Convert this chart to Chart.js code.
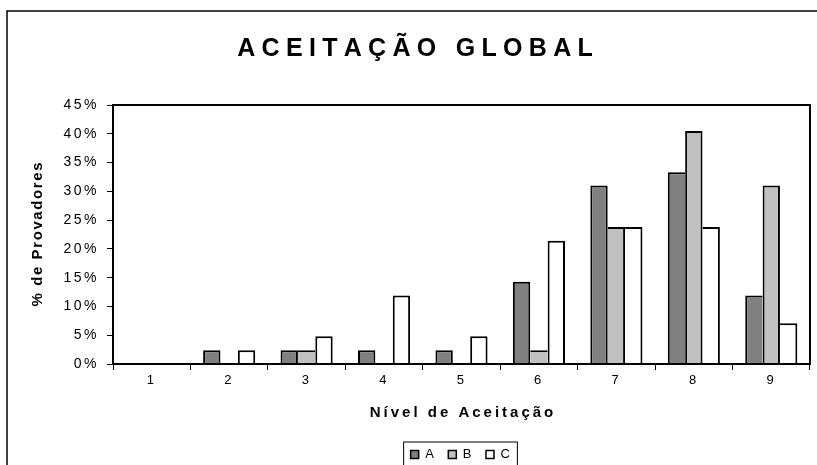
<!DOCTYPE html>
<html>
<head>
<meta charset="utf-8">
<script src="https://cdn.jsdelivr.net/npm/chart.js@4.4.1/dist/chart.umd.min.js"></script>
<style>
  html, body { margin: 0; padding: 0; background: #fff; overflow: hidden; }
  #wrap { width: 817px; height: 465px; overflow: hidden; }
  canvas { display: block; }
</style>
</head>
<body>
<div id="wrap"><canvas id="chart" width="817" height="490"></canvas></div>
<script>
// Acceptance level (hedonic scale 1-9) and share of tasters per sample, in %
const levels = ['1', '2', '3', '4', '5', '6', '7', '8', '9'];
const seriesNames = ['A', 'B', 'C'];
const seriesA = [0, 2.4, 2.4, 2.4, 2.4, 14.3, 31.0, 33.3, 11.9];
const seriesB = [0, 0, 2.4, 0, 0, 2.4, 23.8, 40.5, 31.0];
const seriesC = [0, 2.4, 4.8, 11.9, 4.8, 21.4, 23.8, 23.8, 7.1];
const yTicks = [0, 5, 10, 15, 20, 25, 30, 35, 40, 45];

const chartTitle = 'ACEITAÇÃO GLOBAL';
const xTitle = 'Nível de Aceitação';
const yTitle = '% de Provadores';

const FONT = '"Liberation Sans", Arial, Helvetica, sans-serif';
const LABEL_SPACING = '2.5px';
const EDGE = 2;

Chart.defaults.font.family = FONT;
Chart.defaults.color = '#000';

// Adjacent bars share one outline: the taller bar of a pair carries the common edge.
function outline(values, leftVals, rightVals) {
  return (ctx) => {
    const i = ctx.dataIndex;
    const v = values[i];
    return {
      top: EDGE,
      bottom: 0,
      left: leftVals ? (v > leftVals[i] ? EDGE : 0) : EDGE,
      right: rightVals ? (v >= rightVals[i] ? EDGE : 0) : EDGE
    };
  };
}

function spacedText(ctx, text, cx, baseline, spacing) {
  const chars = Array.from(text);
  const widths = chars.map(ch => ctx.measureText(ch).width);
  const total = widths.reduce((s, w) => s + w, 0) + spacing * (chars.length - 1);
  let x = cx - total / 2;
  ctx.textAlign = 'left';
  ctx.textBaseline = 'alphabetic';
  chars.forEach((ch, i) => {
    ctx.fillText(ch, x, baseline);
    x += widths[i] + spacing;
  });
}

const labelSpacing = {
  id: 'labelSpacing',
  beforeLayout(chart) { chart.ctx.letterSpacing = LABEL_SPACING; },
  beforeDraw(chart) { chart.ctx.letterSpacing = LABEL_SPACING; }
};

const frames = {
  id: 'frames',
  afterDraw(chart) {
    const ctx = chart.ctx;
    const a = chart.chartArea;
    ctx.save();
    ctx.letterSpacing = '0px';
    ctx.strokeStyle = '#000';

    // sheet border
    ctx.lineWidth = 1.5;
    ctx.strokeRect(7, 11, 900, 600);

    // plot frame
    ctx.lineWidth = 2;
    ctx.strokeRect(a.left, a.top, a.right - a.left, a.bottom - a.top);

    // legend border
    const hb = chart.legend.legendHitBoxes;
    if (hb && hb.length) {
      const last = hb[hb.length - 1];
      const l = hb[0].left - 7;
      const r = last.left + last.width + 5;
      const t = hb[0].top - 6;
      ctx.lineWidth = 1;
      ctx.strokeRect(l, t, r - l, 40);
    }

    ctx.fillStyle = '#000';
    // main heading
    ctx.font = 'bold 25px ' + FONT;
    spacedText(ctx, chartTitle, 415, 56, 6.3);

    // x axis heading
    ctx.font = 'bold 15px ' + FONT;
    spacedText(ctx, xTitle, (a.left + a.right) / 2, 417, 3.0);

    // y axis heading
    ctx.save();
    ctx.translate(42, (a.top + a.bottom) / 2);
    ctx.rotate(-Math.PI / 2);
    spacedText(ctx, yTitle, 0, 0, 1.6);
    ctx.restore();

    ctx.restore();
  }
};

const fills = ['#808080', '#C0C0C0', '#FFFFFF'];

new Chart(document.getElementById('chart'), {
  type: 'bar',
  data: {
    labels: levels,
    datasets: [
      { label: seriesNames[0], data: seriesA, backgroundColor: fills[0], borderColor: '#000',
        borderWidth: outline(seriesA, null, seriesB) },
      { label: seriesNames[1], data: seriesB, backgroundColor: fills[1], borderColor: '#000',
        borderWidth: outline(seriesB, seriesA, seriesC) },
      { label: seriesNames[2], data: seriesC, backgroundColor: fills[2], borderColor: '#000',
        borderWidth: outline(seriesC, seriesB, null) }
    ]
  },
  options: {
    responsive: false,
    animation: false,
    devicePixelRatio: 1,
    layout: { padding: { top: 105, right: 7, bottom: 19, left: 0 } },
    datasets: {
      bar: {
        categoryPercentage: 0.673,
        barPercentage: 1,
        inflateAmount: 0,
        borderSkipped: 'start'
      }
    },
    plugins: {
      title: { display: false },
      tooltip: { enabled: false },
      legend: {
        position: 'bottom',
        fullSize: false,
        labels: {
          boxWidth: 8,
          boxHeight: 8,
          padding: 12,
          color: '#000',
          font: { size: 13 },
          generateLabels: (chart) => chart.data.datasets.map((ds, i) => ({
            text: ds.label,
            fillStyle: ds.backgroundColor,
            strokeStyle: '#000',
            lineWidth: 1.5,
            hidden: false,
            datasetIndex: i
          }))
        }
      }
    },
    scales: {
      x: {
        grid: { offset: true, drawOnChartArea: false, drawTicks: true, tickLength: 6, color: '#000' },
        border: { display: false },
        ticks: { color: '#000', font: { size: 13 }, padding: 3, maxRotation: 0 },
        afterFit: (s) => { s.height = 72; }
      },
      y: {
        min: 0,
        max: 45,
        grid: { drawOnChartArea: false, drawTicks: true, tickLength: 6, color: '#000' },
        border: { display: false },
        ticks: { color: '#000', font: { size: 14 }, padding: 8, callback: (v) => v + '%' },
        afterBuildTicks: (s) => { s.ticks = yTicks.map(v => ({ value: v })); },
        afterFit: (s) => { s.width = 113; }
      }
    }
  },
  plugins: [labelSpacing, frames]
});
</script>
</body>
</html>
